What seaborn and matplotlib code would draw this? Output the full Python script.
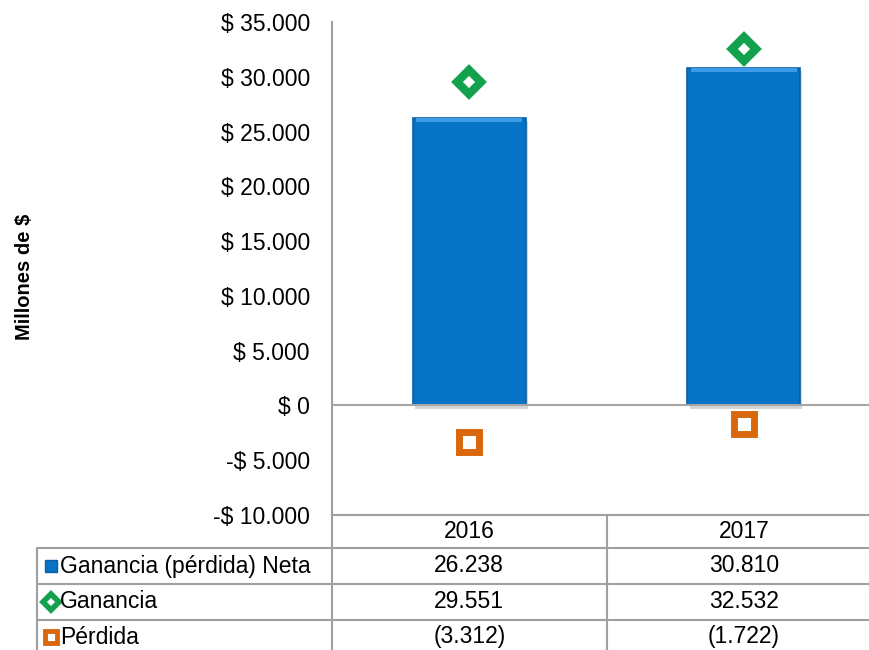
import matplotlib
matplotlib.use("Agg")
import matplotlib.pyplot as plt
import seaborn as sns
import pandas as pd
import numpy as np
from matplotlib.lines import Line2D
from matplotlib import patheffects as pe
from matplotlib.ticker import FuncFormatter

years = ["2016", "2017"]
neta = [26238, 30810]
ganancia = [29551, 32532]
perdida = [-3312, -1722]
series_names = ["Ganancia (pérdida) Neta", "Ganancia", "Pérdida"]
yticks = [-10000, -5000, 0, 5000, 10000, 15000, 20000, 25000, 30000, 35000]

sns.set_theme(style="white")
plt.rcParams['font.family'] = ['Liberation Sans', 'DejaVu Sans']
plt.rcParams['text.color'] = 'black'

FS = 16.5
W, H = 869, 650
fig = plt.figure(figsize=(W / 100, H / 100), dpi=100)


def fx(px):
    return px / W


def fy(py):
    return 1 - py / H


ax_left, ax_right, ax_top, ax_bot = 332, 881, 22, 515
ax = fig.add_axes([fx(ax_left), fy(ax_bot), (ax_right - ax_left) / W, (ax_bot - ax_top) / H])

df = pd.DataFrame({"year": years, "neta": neta})
sns.barplot(data=df, x="year", y="neta", color="#0673C6", width=0.41,
            saturation=1, ax=ax, edgecolor="#0B5FA5", linewidth=1.2)
for p in ax.patches:
    p.set_path_effects([pe.SimplePatchShadow(offset=(1.5, -2.5), alpha=0.22, shadow_rgbFace="#444444"),
                        pe.Normal()])
    # lighter bevel line along the top edge
    x0, w, h = p.get_x(), p.get_width(), p.get_height()
    ax.plot([x0 + 0.012, x0 + w - 0.012], [h - 200, h - 200], color="#3C9BE6", lw=3,
            solid_capstyle="butt", zorder=3)

xpos = np.arange(len(years))
ax.plot(xpos, ganancia, linestyle="none", marker="D", markersize=12.5,
        markerfacecolor="white", markeredgecolor="#13A14E", markeredgewidth=6, zorder=5)
ax.plot(xpos, perdida, linestyle="none", marker="s", markersize=15,
        markerfacecolor="white", markeredgecolor="#D9680C", markeredgewidth=5, zorder=5)

ax.set_xlim(-0.5, 1.5)
ax.set_ylim(-10000, 35000)
ax.set_yticks(yticks)


def money(v, pos=None):
    s = f"{abs(int(v)):,}".replace(",", ".")
    return ("-$ " if v < 0 else "$ ") + s


ax.yaxis.set_major_formatter(FuncFormatter(money))
ax.tick_params(axis="y", length=0, pad=16, labelsize=FS, labelcolor="black")
ax.set_xticks([])
ax.set_xlabel("")
ax.set_ylabel("Millones de $", fontsize=14.5, fontweight="bold", color="black")
ax.yaxis.set_label_coords((34 - ax_left) / (ax_right - ax_left), (ax_bot - 277) / (ax_bot - ax_top))

ax.axhline(0, color="#A6A6A6", linewidth=1.5, zorder=1)
for s in ["top", "right"]:
    ax.spines[s].set_visible(False)
for s in ["left", "bottom"]:
    ax.spines[s].set_color("#A0A0A0")
    ax.spines[s].set_linewidth(1.5)

# ---- data table ----
gray = "#A0A0A0"
row_lines = [548, 584, 620]
table_left = 37
table_bottom = 660
for y in row_lines:
    fig.add_artist(Line2D([fx(table_left), 1.0], [fy(y), fy(y)], color=gray, lw=1.5))
fig.add_artist(Line2D([fx(ax_left), fx(ax_left)], [fy(ax_bot), fy(table_bottom)], color=gray, lw=1.5))
fig.add_artist(Line2D([fx(table_left), fx(table_left)], [fy(548), fy(table_bottom)], color=gray, lw=1.5))
col_w = (ax_right - ax_left) / len(years)
mid = ax_left + col_w
fig.add_artist(Line2D([fx(mid), fx(mid)], [fy(ax_bot), fy(table_bottom)], color=gray, lw=1.5))


def fmt_val(v):
    s = f"{abs(int(v)):,}".replace(",", ".")
    return f"({s})" if v < 0 else s


row_centers = [566, 602, 637]
header_y = 531
for i, yr in enumerate(years):
    cx = ax_left + col_w * (i + 0.5)
    fig.text(fx(cx), fy(header_y), yr, ha="center", va="center", fontsize=FS, color="black")
    for r, vals in enumerate([neta, ganancia, perdida]):
        fig.text(fx(cx), fy(row_centers[r]), fmt_val(vals[i]), ha="center", va="center",
                 fontsize=FS, color="black")

icon_x = 51
icons = [dict(marker="s", markersize=9, markerfacecolor="#0673C6", markeredgecolor="#0B5FA5", markeredgewidth=1),
         dict(marker="D", markersize=8, markerfacecolor="white", markeredgecolor="#13A14E", markeredgewidth=4),
         dict(marker="s", markersize=9, markerfacecolor="white", markeredgecolor="#D9680C", markeredgewidth=3.5)]
for r, name in enumerate(series_names):
    fig.add_artist(Line2D([fx(icon_x)], [fy(row_centers[r])], linestyle="none", **icons[r]))
    fig.text(fx(60), fy(row_centers[r]), name, ha="left", va="center", fontsize=FS, color="black")

fig.savefig("out.png", dpi=100)
